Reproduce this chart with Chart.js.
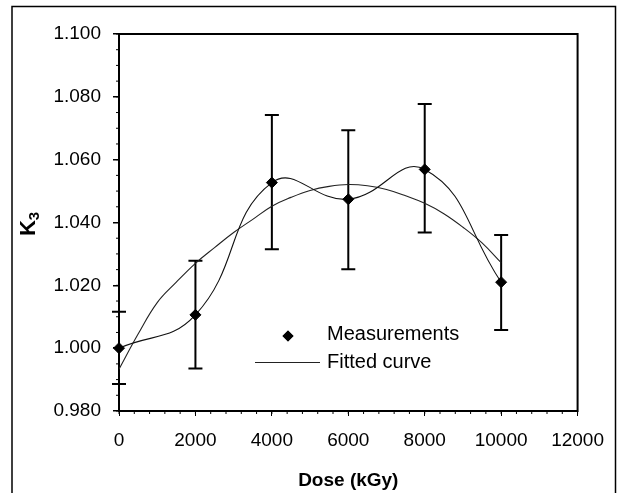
<!DOCTYPE html>
<html>
<head>
<meta charset="utf-8">
<script src="https://cdn.jsdelivr.net/npm/chart.js@4.4.1/dist/chart.umd.min.js"></script>
<style>
html, body { margin: 0; padding: 0; background: #fff; }
#wrap { width: 617px; height: 493px; }
</style>
</head>
<body>
<div id="wrap"><canvas id="chart"></canvas></div>
<script>
'use strict';

// measured K3 values with their error limits
var doses = [0, 2000, 4000, 6000, 8000, 10000];
var k3Values = [1.0000, 1.0106, 1.0527, 1.0474, 1.0569, 1.0210];
var errHigh = [1.0116, 1.0278, 1.0742, 1.0694, 1.0777, 1.0360];
var errLow = [0.9886, 0.9935, 1.0315, 1.0251, 1.0368, 1.0058];

// fitted curve
var fitDoses = [0, 500, 1000, 1500, 2000, 2500, 3000, 3500, 4000, 4500, 5000,
    5500, 6000, 6500, 7000, 7500, 8000, 8500, 9000, 9500, 10000];
var fitValues = [0.9933, 1.0045, 1.0145, 1.0210, 1.0270, 1.0320, 1.0368, 1.0410,
    1.0452, 1.0480, 1.0502, 1.0515, 1.0521, 1.0517, 1.0505, 1.0485, 1.0461,
    1.0428, 1.0385, 1.0335, 1.0272];

var xTicks = [0, 2000, 4000, 6000, 8000, 10000, 12000];
var yTicks = [0.980, 1.000, 1.020, 1.040, 1.060, 1.080, 1.100];

var FONT = '"Liberation Sans", Arial, sans-serif';

function points(xs, ys) {
    return xs.map(function(x, i) { return { x: x, y: ys[i] }; });
}

var extras = {
    id: 'extras',
    beforeDatasetsDraw: function(chart) {
        var ctx = chart.ctx, xs = chart.scales.x, ys = chart.scales.y;
        var area = chart.chartArea;
        ctx.save();
        // frame of the plot
        ctx.strokeStyle = '#000';
        ctx.lineWidth = 2;
        ctx.strokeRect(area.left, area.top, area.right - area.left, area.bottom - area.top);
        // minor ticks
        ctx.lineWidth = 1;
        var v, p;
        for (v = 0; v <= 12000; v += 400) {
            p = xs.getPixelForValue(v);
            ctx.beginPath(); ctx.moveTo(p, area.bottom); ctx.lineTo(p, area.bottom + 3); ctx.stroke();
        }
        for (v = 0; v <= 24; v++) {
            p = ys.getPixelForValue(0.98 + v * 0.005);
            ctx.beginPath(); ctx.moveTo(area.left, p); ctx.lineTo(area.left - 3, p); ctx.stroke();
        }
        // error bars
        ctx.lineWidth = 2;
        doses.forEach(function(d, i) {
            var x = xs.getPixelForValue(d);
            var hi = ys.getPixelForValue(errHigh[i]);
            var lo = ys.getPixelForValue(errLow[i]);
            ctx.beginPath();
            ctx.moveTo(x, hi); ctx.lineTo(x, lo);
            ctx.moveTo(x - 7, hi); ctx.lineTo(x + 7, hi);
            ctx.moveTo(x - 7, lo); ctx.lineTo(x + 7, lo);
            ctx.stroke();
        });
        ctx.restore();
    },
    afterDraw: function(chart) {
        var ctx = chart.ctx;
        ctx.save();
        // outer figure border
        ctx.strokeStyle = '#000';
        ctx.lineWidth = 1.5;
        ctx.strokeRect(12, 6.5, 603.5, 520);

        // y axis title K3
        ctx.translate(27, 224);
        ctx.rotate(-Math.PI / 2);
        ctx.fillStyle = '#000';
        ctx.textBaseline = 'alphabetic';
        ctx.font = 'bold 22px ' + FONT;
        var kw = ctx.measureText('K').width;
        ctx.font = 'bold 15px ' + FONT;
        var sw = ctx.measureText('3').width;
        var start = -(kw + sw) / 2;
        ctx.font = 'bold 22px ' + FONT;
        ctx.fillText('K', start, 8);
        ctx.font = 'bold 15px ' + FONT;
        ctx.fillText('3', start + kw, 12);
        ctx.restore();

        // legend inside the plot
        ctx.save();
        ctx.fillStyle = '#000';
        ctx.strokeStyle = '#000';
        Chart.helpers.drawPoint(ctx, { pointStyle: 'rectRot', radius: 5.5, rotation: 0 }, 288, 336);
        ctx.fill();
        ctx.lineWidth = 1;
        ctx.strokeStyle = '#222';
        ctx.beginPath(); ctx.moveTo(255, 362.5); ctx.lineTo(320, 362.5); ctx.stroke();
        ctx.font = '20px ' + FONT;
        ctx.textBaseline = 'middle';
        ctx.fillText('Measurements', 327, 334);
        ctx.fillText('Fitted curve', 327, 362);
        ctx.restore();
    }
};

new Chart(document.getElementById('chart'), {
    type: 'scatter',
    data: {
        datasets: [{
            label: 'Measurements',
            data: points(doses, k3Values),
            showLine: true,
            tension: 0.45,
            borderColor: '#111',
            borderWidth: 1.1,
            pointStyle: 'rectRot',
            pointRadius: 5.5,
            pointHoverRadius: 5.5,
            pointBackgroundColor: '#000',
            pointBorderColor: '#000',
            pointBorderWidth: 1,
            clip: false
        }, {
            label: 'Fitted curve',
            data: points(fitDoses, fitValues),
            showLine: true,
            tension: 0.4,
            borderColor: '#222',
            borderWidth: 1.1,
            pointRadius: 0
        }]
    },
    options: {
        responsive: true,
        maintainAspectRatio: false,
        animation: false,
        layout: { padding: { top: 34, right: 32, left: 0, bottom: 0 } },
        plugins: {
            legend: { display: false },
            tooltip: { enabled: false }
        },
        scales: {
            x: {
                type: 'linear',
                min: 0,
                max: 12000,
                afterBuildTicks: function(scale) {
                    scale.ticks = xTicks.map(function(v) { return { value: v }; });
                },
                afterFit: function(scale) { scale.height = 82; },
                ticks: {
                    color: '#000',
                    font: { family: FONT, size: 19 },
                    padding: 13,
                    maxRotation: 0,
                    callback: function(v) { return String(v); }
                },
                grid: { drawOnChartArea: false, color: '#000', tickLength: 5, lineWidth: 1 },
                border: { color: '#000', width: 2 },
                title: {
                    display: true,
                    text: 'Dose (kGy)',
                    color: '#000',
                    font: { family: FONT, size: 19, weight: 'bold' },
                    padding: { top: 0, bottom: 1 }
                }
            },
            y: {
                type: 'linear',
                min: 0.98,
                max: 1.10,
                afterBuildTicks: function(scale) {
                    scale.ticks = yTicks.map(function(v) { return { value: v }; });
                },
                afterFit: function(scale) { scale.width = 119; },
                ticks: {
                    color: '#000',
                    font: { family: FONT, size: 19 },
                    padding: 12,
                    callback: function(v) { return v.toFixed(3); }
                },
                grid: { drawOnChartArea: false, color: '#000', tickLength: 6, lineWidth: 1.5 },
                border: { color: '#000', width: 2 }
            }
        }
    },
    plugins: [extras]
});
</script>
</body>
</html>
